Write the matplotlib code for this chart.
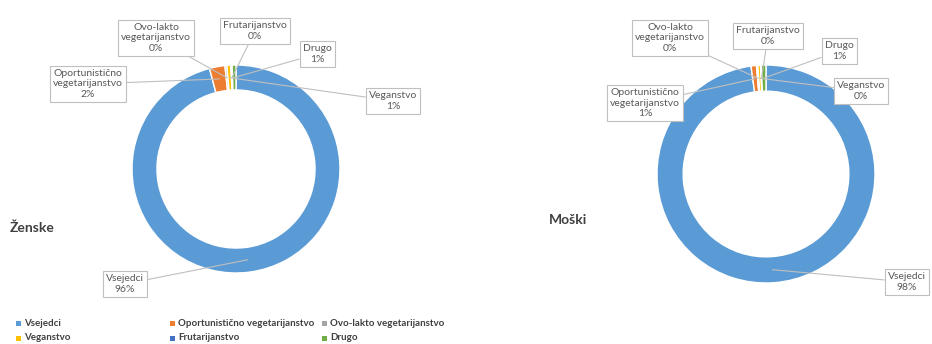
import numpy as np
import matplotlib
matplotlib.use("Agg")
import matplotlib.pyplot as plt
from matplotlib.patches import Rectangle

plt.rcParams['font.family'] = ['Lato', 'DejaVu Sans']

categories = ['Vsejedci', 'Oportunistično vegetarijanstvo', 'Ovo-lakto vegetarijanstvo',
              'Veganstvo', 'Frutarijanstvo', 'Drugo']
label_names = ['Vsejedci', 'Oportunistično\nvegetarijanstvo', 'Ovo-lakto\nvegetarijanstvo',
               'Veganstvo', 'Frutarijanstvo', 'Drugo']
women = [95.9, 2.4, 0.3, 0.6, 0.2, 0.6]
men = [97.8, 0.8, 0.2, 0.4, 0.1, 0.7]
colors = ['#5B9BD5', '#ED7D31', '#A5A5A5', '#FFC000', '#4472C4', '#70AD47']
titles = ['Ženske', 'Moški']

W, H = 932, 344
fig = plt.figure(figsize=(W / 100, H / 100), dpi=100)

# donut geometry in image pixels: (cx, cy, r)
donuts = [(236, 169, 104), (766, 174, 109)]
# label box centres in image pixels
label_pos = [
    [(125, 284), (88, 84), (156, 38), (393, 101), (255, 31), (317, 54)],
    [(907, 282), (645, 103), (670, 38), (861, 91), (768, 36), (839, 51)],
]
title_pos = [(10, 228), (549, 220)]

for k, vals in enumerate([women, men]):
    cx, cy, r = donuts[k]
    ax = fig.add_axes([(cx - r) / W, (H - cy - r) / H, 2 * r / W, 2 * r / H])
    ax.pie(vals, colors=colors, startangle=90, counterclock=False, radius=1,
           wedgeprops=dict(width=0.24, edgecolor='white', linewidth=1.0))
    ax.set_xlim(-1, 1)
    ax.set_ylim(-1, 1)
    ax.set_aspect('equal')
    ax.axis('off')
    total = sum(vals)
    cum = 0
    for i, v in enumerate(vals):
        mid = cum + v / 2
        cum += v
        ang = np.deg2rad(90 - 360 * mid / total)
        xy = (0.88 * np.cos(ang), 0.88 * np.sin(ang))
        lx, ly = label_pos[k][i]
        txt = f"{label_names[i]}\n{round(100 * v / total):.0f}%"
        ax.annotate(txt, xy=xy, xycoords='data', xytext=(lx, H - ly),
                    textcoords='figure pixels', ha='center', va='center',
                    fontsize=7.5, color='#595959', linespacing=1.15,
                    annotation_clip=False,
                    bbox=dict(boxstyle='square,pad=0.3', fc='white', ec='#BFBFBF', lw=0.8),
                    arrowprops=dict(arrowstyle='-', color='#BFBFBF', lw=0.8,
                                    shrinkA=0, shrinkB=0))
    tx, ty = title_pos[k]
    fig.text(tx / W, (H - ty) / H, titles[k], fontsize=10, fontweight='bold',
             color='#404040', ha='left', va='center')

# legend
leg_x = [18, 172, 324]
leg_y = [323, 338]
for i, name in enumerate(categories):
    row, col = divmod(i, 3)
    x, y = leg_x[col], leg_y[row]
    fig.add_artist(Rectangle(((x - 2.5) / W, (H - y - 2.5) / H), 5 / W, 5 / H,
                             transform=fig.transFigure, facecolor=colors[i],
                             edgecolor='none'))
    fig.text((x + 6) / W, (H - y) / H, name, fontsize=7, fontweight='bold',
             color='#404040', ha='left', va='center')

fig.savefig('out.png', dpi=100)
